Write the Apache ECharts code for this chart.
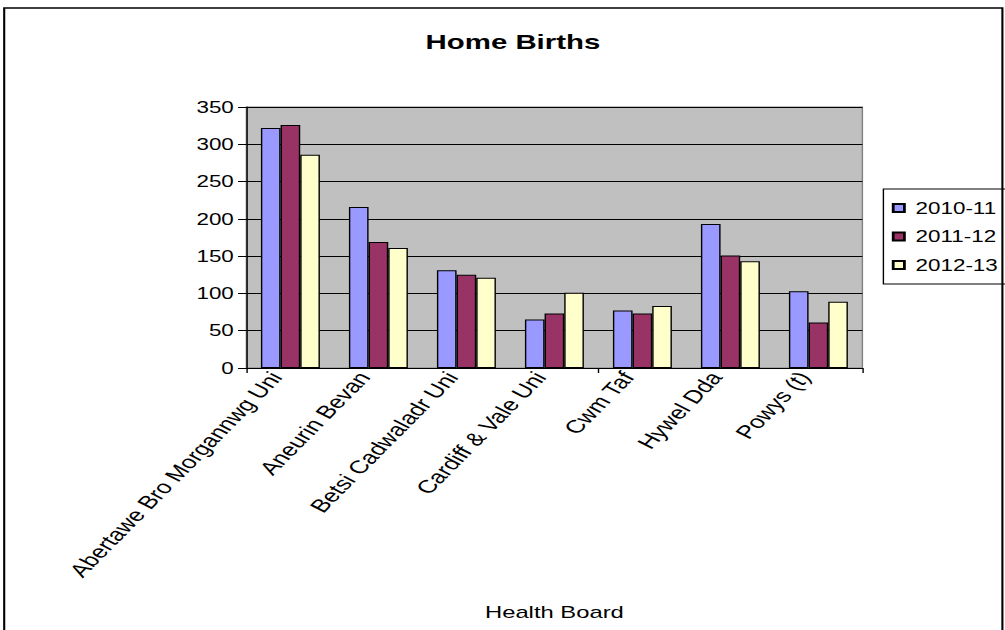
<!DOCTYPE html>
<html>
<head>
<meta charset="utf-8">
<title>Home Births</title>
<script src="https://cdn.jsdelivr.net/npm/echarts@6/dist/echarts.min.js"></script>
<style>
  html, body { margin: 0; padding: 0; background: #fff; overflow: hidden; }
  /* the reference is drawn wide: lay out at 718px and stretch to 1005px */
  #chart { width: 718px; height: 630px; transform: scaleX(1.4); transform-origin: 0 0; }
</style>
</head>
<body>
<div id="chart"></div>
<script>
var categories = ['Abertawe Bro Morgannwg Uni', 'Aneurin Bevan', 'Betsi Cadwaladr Uni', 'Cardiff & Vale Uni', 'Cwm Taf', 'Hywel Dda', 'Powys (t)']
var years = ['2010-11', '2011-12', '2012-13']
var births1011 = [322, 216, 131, 65, 77, 193, 103]
var births1112 = [326, 169, 125, 73, 73, 151, 61]
var births1213 = [286, 161, 121, 101, 83, 143, 89]
var yTicks = [0, 50, 100, 150, 200, 250, 300, 350]

var font = 'Liberation Sans, Arial, sans-serif'
var colors = ['#9999FF', '#993366', '#FFFFCC']

function barSeries(name, data, i) {
  return {
    name: name,
    type: 'bar',
    data: data,
    barGap: '0%',
    barCategoryGap: '33%',
    itemStyle: {
      color: colors[i],
      borderColor: '#000',
      borderWidth: 1
    }
  }
}

var chart = echarts.init(document.getElementById('chart'), null, { renderer: 'svg' })
chart.setOption({
  animation: false,
  title: {
    text: 'Home Births',
    left: 304,
    top: 31,
    padding: 0,
    textStyle: { fontFamily: font, fontSize: 21, fontWeight: 'bold', color: '#000' }
  },
  legend: {
    orient: 'vertical',
    left: 631,
    top: 189,
    padding: [11, 6, 11, 6],
    itemGap: 12.5,
    itemWidth: 8,
    itemHeight: 8,
    icon: 'rect',
    borderColor: '#000',
    borderWidth: 1,
    data: years,
    textStyle: { fontFamily: font, fontSize: 16, color: '#000', padding: [0, 0, 0, 3] }
  },
  grid: [{
    left: 176,
    top: 107,
    width: 440,
    height: 261,
    show: true,
    backgroundColor: '#C0C0C0',
    borderColor: '#808080',
    borderWidth: 1
  }, {
    // Excel puts the slanted labels a little left of the category centre,
    // so the labels sit on a copy of the category axis shifted left
    left: 166,
    top: 107,
    width: 440,
    height: 261,
    show: false
  }],
  xAxis: [{
    type: 'category',
    gridIndex: 0,
    data: categories,
    name: 'Health Board',
    nameLocation: 'middle',
    nameGap: 235,
    nameTextStyle: { fontFamily: font, fontSize: 17, color: '#000' },
    axisLine: { lineStyle: { color: '#000', width: 1 } },
    axisTick: { show: true, length: 5, lineStyle: { color: '#000' } },
    axisLabel: { show: false }
  }, {
    type: 'category',
    gridIndex: 1,
    position: 'bottom',
    data: categories,
    axisLine: { show: false, onZero: false },
    axisTick: { show: false },
    axisLabel: {
      interval: 0,
      rotate: 54.5,
      margin: 6,
      fontFamily: font,
      fontSize: 18.5,
      color: '#000'
    }
  }],
  yAxis: [{
    type: 'value',
    gridIndex: 0,
    min: yTicks[0],
    max: yTicks[yTicks.length - 1],
    interval: 50,
    axisLine: { show: true, lineStyle: { color: '#000', width: 1 } },
    axisTick: { show: true, length: 6, lineStyle: { color: '#000' } },
    axisLabel: { margin: 9, fontFamily: font, fontSize: 16, color: '#000' },
    splitLine: { lineStyle: { color: '#000', width: 1 } }
  }, {
    type: 'value',
    gridIndex: 1,
    min: yTicks[0],
    max: yTicks[yTicks.length - 1],
    show: false
  }],
  graphic: [{
    type: 'rect',
    shape: { x: 3, y: 8, width: 713, height: 640 },
    style: { fill: 'none', stroke: '#000', lineWidth: 1.5 },
    silent: true
  }],
  series: [
    barSeries(years[0], births1011, 0),
    barSeries(years[1], births1112, 1),
    barSeries(years[2], births1213, 2)
  ]
})
</script>
</body>
</html>
